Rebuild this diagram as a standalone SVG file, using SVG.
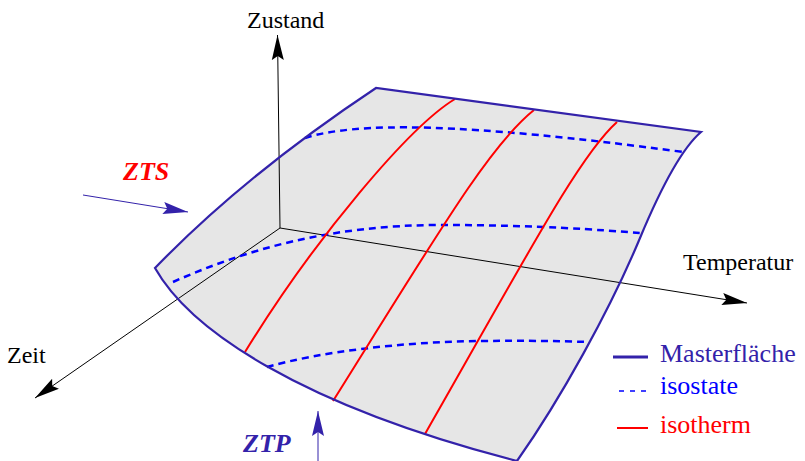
<svg xmlns="http://www.w3.org/2000/svg" width="805" height="461" viewBox="0 0 805 461">
<defs>
<style>
.ax{stroke:#000;stroke-width:1;fill:none}
.ser{font-family:"Liberation Serif","Times New Roman",serif}
.lbl{font-size:24px;fill:#000}
.leg{font-size:26px}
.big{font-size:26px;font-weight:bold;font-style:italic}
.iso{stroke:#0000ff;stroke-width:2.5;fill:none;stroke-dasharray:7 5}
.ith{stroke:#ff0000;stroke-width:2;fill:none}
.out{stroke:#3322aa;stroke-width:2.2;fill:none;stroke-linejoin:miter}
.dark{fill:#3322aa}
</style>
<marker id="ah" markerUnits="userSpaceOnUse" markerWidth="26" markerHeight="14" refX="25" refY="7" orient="auto">
<path d="M0,1 L25,7 L0,13 L4,7 z" fill="#000"/>
</marker>
<marker id="ahb" markerUnits="userSpaceOnUse" markerWidth="26" markerHeight="14" refX="25" refY="7" orient="auto">
<path d="M0,1 L25,7 L0,13 L4,7 z" fill="#3322aa"/>
</marker>
</defs>
<rect width="805" height="461" fill="#fff"/>

<g id="surface-fill">
<path d="M155,268 Q245,175 376,88 L701,132 C680,150 660,190 640,238 C610,310 560,400 517,461 C300,405 190,330 155,268 Z" fill="#e6e6e6" stroke="none"/>
</g>

<g id="axes">
<line class="ax" x1="280" y1="228" x2="277.5" y2="35" marker-end="url(#ah)"/>
<line class="ax" x1="280" y1="228" x2="747" y2="303" marker-end="url(#ah)"/>
<line class="ax" x1="280" y1="228" x2="35" y2="398" marker-end="url(#ah)"/>
</g>

<g id="isostates">
<path class="iso" d="M305,138 C355,122 460,122 683,152"/>
<path class="iso" d="M173,282 C245,250 330,225 440,225 C540,225 600,230 640,233"/>
<path class="iso" d="M267,367 C320,352 400,342 480,341 C530,340.5 560,341 588,342"/>
</g>

<g id="isotherms">
<path class="ith" d="M455,99 C410,126 315,238 245,352"/>
<path class="ith" d="M534,110 C490,145 440,230 333,401"/>
<path class="ith" d="M617,122 C580,155 530,250 425,434"/>
</g>

<g id="masterflaeche">
<path class="out" d="M155,268 Q245,175 376,88 L701,132 C680,150 660,190 640,238 C610,310 560,400 517,461 C300,405 190,330 155,268 Z"/>
</g>

<g id="axis-labels" class="ser lbl">
<text x="247" y="28">Zustand</text>
<text x="683" y="270">Temperatur</text>
<text x="7" y="363">Zeit</text>
</g>

<g id="zts">
<text class="ser big" x="123" y="180" fill="#ff0000">ZTS</text>
<line x1="83" y1="195" x2="188" y2="212" stroke="#3322aa" stroke-width="1" marker-end="url(#ahb)"/>
</g>

<g id="ztp">
<text class="ser big dark" x="243" y="452">ZTP</text>
<line x1="318" y1="461" x2="318" y2="411" stroke="#3322aa" stroke-width="1" marker-end="url(#ahb)"/>
</g>

<g id="legend">
<line x1="613" y1="357" x2="648" y2="357" stroke="#3322aa" stroke-width="3"/>
<text class="ser leg" x="660" y="362" fill="#3322aa">Masterfläche</text>
<line x1="619" y1="391" x2="647" y2="391" stroke="#0000ff" stroke-width="1.5" stroke-dasharray="5 6"/>
<text class="ser leg" x="660" y="394" fill="#0000ff">isostate</text>
<line x1="617" y1="428" x2="648" y2="428" stroke="#ff0000" stroke-width="2"/>
<text class="ser leg" x="660" y="433" fill="#ff0000">isotherm</text>
</g>
</svg>
